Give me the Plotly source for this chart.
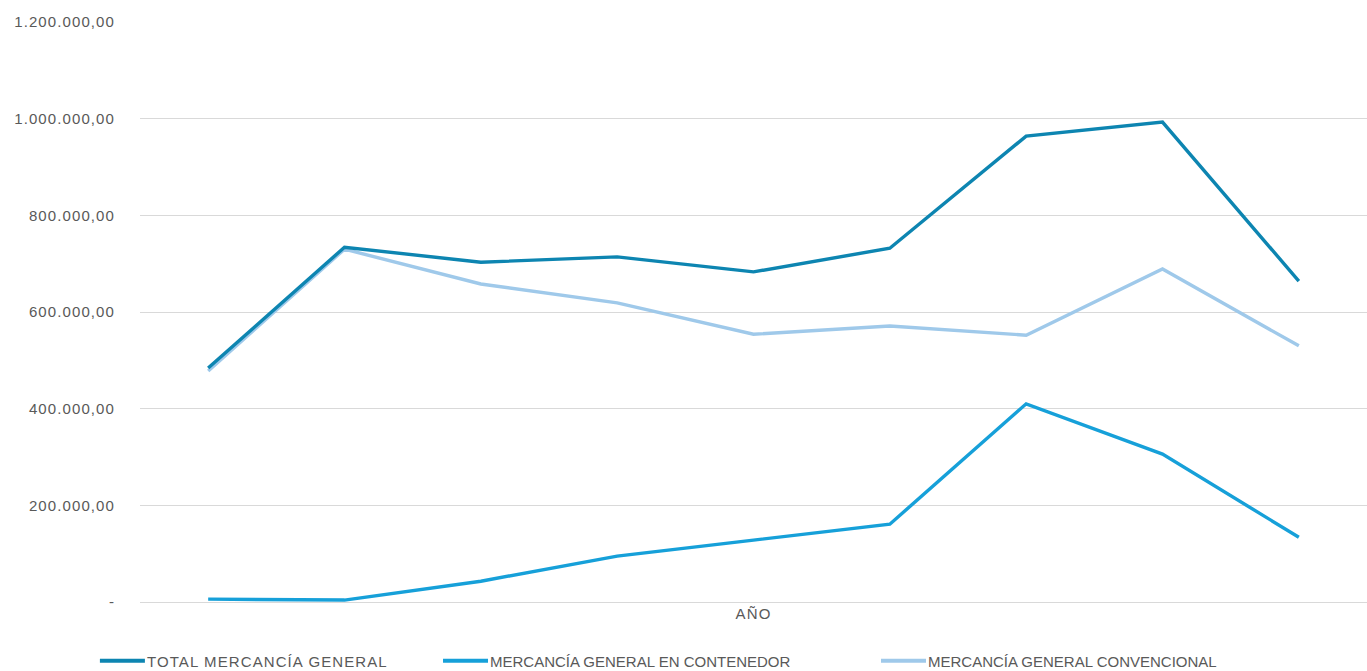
import plotly.graph_objects as go

categories = ["1", "2", "3", "4", "5", "6", "7", "8", "9"]
total = [484000, 734000, 703000, 714000, 683000, 732000, 964000, 993000, 664000]
contenedor = [6000, 4000, 43000, 95000, 128000, 161000, 410000, 306000, 134000]
convencional = [478000, 730000, 658000, 619000, 554000, 571000, 552000, 689000, 530000]

names = ["TOTAL MERCANCÍA GENERAL", "MERCANCÍA GENERAL EN CONTENEDOR", "MERCANCÍA GENERAL CONVENCIONAL"]
colors = ["#0D85B1", "#16A0D9", "#9FC9EA"]

tick_vals = [0, 200000, 400000, 600000, 800000, 1000000, 1200000]
tick_text = ["-", "200.000,00", "400.000,00", "600.000,00", "800.000,00", "1.000.000,00", "1.200.000,00"]

FONT = "Liberation Sans"
fig = go.Figure()
series = [total, contenedor, convencional]
legends = ["legend", "legend2", "legend3"]
order = [2, 1, 0]
for i in order:
    fig.add_trace(go.Scatter(x=categories, y=series[i], name=names[i], mode="lines",
                             line=dict(color=colors[i], width=3.4), legend=legends[i],
                             showlegend=True))

leg_common = dict(orientation="h", yref="container", xref="container", yanchor="middle",
                  y=0.0149, xanchor="left",
                  font=dict(family=FONT, size=15, color="#595959"),
                  bgcolor="rgba(0,0,0,0)", borderwidth=0, visible=True)
fig.update_layout(
    width=1367, height=671,
    showlegend=True,
    margin=dict(l=140, r=0, t=22, b=69),
    paper_bgcolor="white", plot_bgcolor="white",
    font=dict(family=FONT, color="#595959"),
    legend=dict(x=0.0782, **leg_common),
    legend2=dict(x=0.3292, **leg_common),
    legend3=dict(x=0.6496, **leg_common),
    xaxis=dict(type="category", showticklabels=False, showgrid=False, zeroline=False,
               showline=False, ticks="", range=[-0.5, 8.5],
               title=dict(text="AÑO", standoff=6, font=dict(family=FONT, size=15, color="#595959"))),
    yaxis=dict(range=[0, 1200000], tickvals=tick_vals, ticktext=tick_text,
               showgrid=True, gridcolor="#D9D9D9", gridwidth=1, zeroline=True,
               zerolinecolor="#D9D9D9", zerolinewidth=1, showline=False, ticks="",
               ticklabelstandoff=24,
               tickfont=dict(family=FONT, size=15, color="#595959")),
)
post = """
document.body.style.margin = '0';
document.body.style.overflow = 'hidden';
function sp(){
  document.querySelectorAll('.ytick text, .legendtext, .g-xtitle text').forEach(function(e){
    e.style.letterSpacing = '1.1px';
  });
  document.querySelectorAll('.scrollbox').forEach(function(e){
    e.removeAttribute('clip-path');
  });
  document.querySelectorAll('.legendlines path').forEach(function(e){
    e.setAttribute('d', 'M-7,0h45');
    e.style.strokeWidth = '4px';
  });
}
sp();
var gd = document.getElementById('{plot_id}');
if (gd && gd.on) { gd.on('plotly_afterplot', sp); }
"""
fig.write_html("out.html", post_script=post, config={"displayModeBar": False})
